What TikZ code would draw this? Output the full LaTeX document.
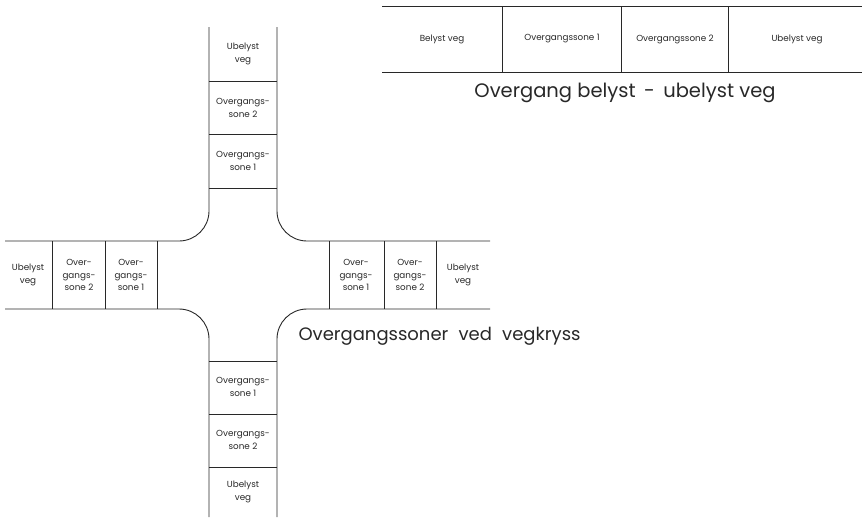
\documentclass[tikz,border=0pt]{standalone}
\usepackage{fontspec}
\setmainfont{Poppins}
\usepackage{xcolor}
\usetikzlibrary{positioning}
\definecolor{ink}{RGB}{40,40,40}
\tikzset{
  road/.style={ink, line width=0.9pt, rounded corners=30pt},
  edge/.style={ink, line width=0.9pt},
  zone/.style={ink, line width=0.6pt},
  lbl/.style={ink, align=center, font=\fontsize{8.8}{12.5}\selectfont},
  heading/.style={ink, anchor=base, font=\fontsize{19.5}{22}\selectfont},
}

\begin{document}
\begin{tikzpicture}[x=1pt, y=-1pt]
  \useasboundingbox (0,0) rectangle (862,517);
  % Overgang belyst - ubelyst veg
  \draw[edge] (382,6) -- (862,6);
  \draw[edge] (382,72) -- (862,72);
  \draw[zone] (502,6) -- (502,72);
  \draw[zone] (621,6) -- (621,72);
  \draw[zone] (728,6) -- (728,72);
  \node[lbl] (belyst) at (442,39) {Belyst veg};
  \node[lbl] (sonea) at (562,39) {Overgangssone 1};
  \node[lbl] (soneb) at (675,39) {Overgangssone 2};
  \node[lbl] (ubelyst) at (797,39) {Ubelyst veg};
  \node[heading] (title1) at (625,97) {Overgang belyst \,-\, ubelyst veg};

  % vegkryss
  \draw[road] (209,27) -- (209,241) -- (5,241);
  \draw[road] (277,27) -- (277,241) -- (490,241);
  \draw[road] (5,309) -- (209,309) -- (209,517);
  \draw[road] (490,309) -- (277,309) -- (277,517);
  % top arm
  \draw[zone] (209,81) -- (277,81);
  \draw[zone] (209,134) -- (277,134);
  \draw[zone] (209,188) -- (277,188);
  \node[lbl] (nveg) at (243,54) {Ubelyst\\veg};
  \node[lbl] (nsoneb) at (243,108) {Overgangs-\\sone 2};
  \node[lbl] (nsonea) at (243,161) {Overgangs-\\sone 1};
  % left arm
  \draw[zone] (52,241) -- (52,309);
  \draw[zone] (105,241) -- (105,309);
  \draw[zone] (157,241) -- (157,309);
  \node[lbl] (wveg) at (28,275) {Ubelyst\\veg};
  \node[lbl] (wsoneb) at (79,275) {Over-\\gangs-\\sone 2};
  \node[lbl] (wsonea) at (131,275) {Over-\\gangs-\\sone 1};
  % right arm
  \draw[zone] (329,241) -- (329,309);
  \draw[zone] (384,241) -- (384,309);
  \draw[zone] (436,241) -- (436,309);
  \node[lbl] (esonea) at (356,275) {Over-\\gangs-\\sone 1};
  \node[lbl] (esoneb) at (410,275) {Over-\\gangs-\\sone 2};
  \node[lbl] (eveg) at (463,275) {Ubelyst\\veg};
  % bottom arm
  \draw[zone] (209,361) -- (277,361);
  \draw[zone] (209,414) -- (277,414);
  \draw[zone] (209,467) -- (277,467);
  \node[lbl] (ssonea) at (243,387) {Overgangs-\\sone 1};
  \node[lbl] (ssoneb) at (243,440) {Overgangs-\\sone 2};
  \node[lbl] (sveg) at (243,492) {Ubelyst\\veg};

  \node[heading, anchor=base west, font=\fontsize{18}{22}\selectfont] (title2) at (295,340)
    {Overgangssoner\hspace{0.3em} ved\hspace{0.3em} vegkryss};
\end{tikzpicture}
\end{document}
